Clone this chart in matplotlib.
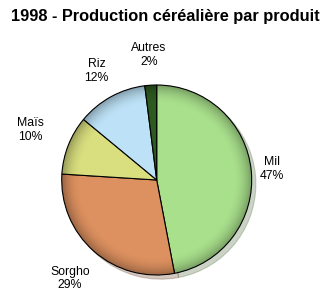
import numpy as np
import matplotlib.pyplot as plt
from matplotlib.patches import Circle

# data
produits = ['Mil', 'Sorgho', 'Maïs', 'Riz', 'Autres']
parts = [47, 29, 10, 12, 2]
couleurs = ['#a9e08c', '#de9160', '#d9df7e', '#bde2f7', '#2d5a20']

fig = plt.figure(figsize=(3.31, 3.02), dpi=100)
ax = fig.add_axes([0, 0, 1, 1])

cx, cy, r = 156.7, 122, 95

wedges, _ = ax.pie(parts, colors=couleurs, startangle=90, counterclock=False,
                   center=(cx, cy), radius=r, frame=True,
                   wedgeprops={'edgecolor': 'black', 'linewidth': 0.8},
                   shadow={'ox': 3, 'oy': -3, 'shade': 0.5, 'alpha': 0.3})

# soft rim shading for a rounded look
n = 300
xx, yy = np.meshgrid(np.linspace(-1, 1, n), np.linspace(-1, 1, n))
rr = np.sqrt(xx**2 + yy**2)
shade = np.zeros((n, n, 4))
shade[..., 3] = np.clip((rr - 0.8) / 0.2, 0, 1) ** 2 * 0.3
img = ax.imshow(shade, extent=(cx - r, cx + r, cy - r, cy + r), origin='lower',
                zorder=3, interpolation='bilinear')
img.set_clip_path(Circle((cx, cy), r, transform=ax.transData))
for w in wedges:
    w.set_zorder(2)

ax.set_xlim(0, 331)
ax.set_ylim(0, 302)
ax.set_aspect('equal')
ax.axis('off')

# labels
dist = [1.22, 1.38, 1.43, 1.31, 1.32]
for w, nom, p, d in zip(wedges, produits, parts, dist):
    a = np.deg2rad((w.theta1 + w.theta2) / 2)
    ax.text(cx + d * r * np.cos(a), cy + d * r * np.sin(a), f'{nom}\n{p}%',
            ha='center', va='center', fontsize=8.8, family='Liberation Sans',
            linespacing=1.15)

fig.text(0.5, 1 - 17 / 302, '1998 - Production céréalière par produit',
         ha='center', va='center', fontsize=11.8, fontweight='bold',
         family='Liberation Sans')

plt.savefig('out.png', dpi=100)
